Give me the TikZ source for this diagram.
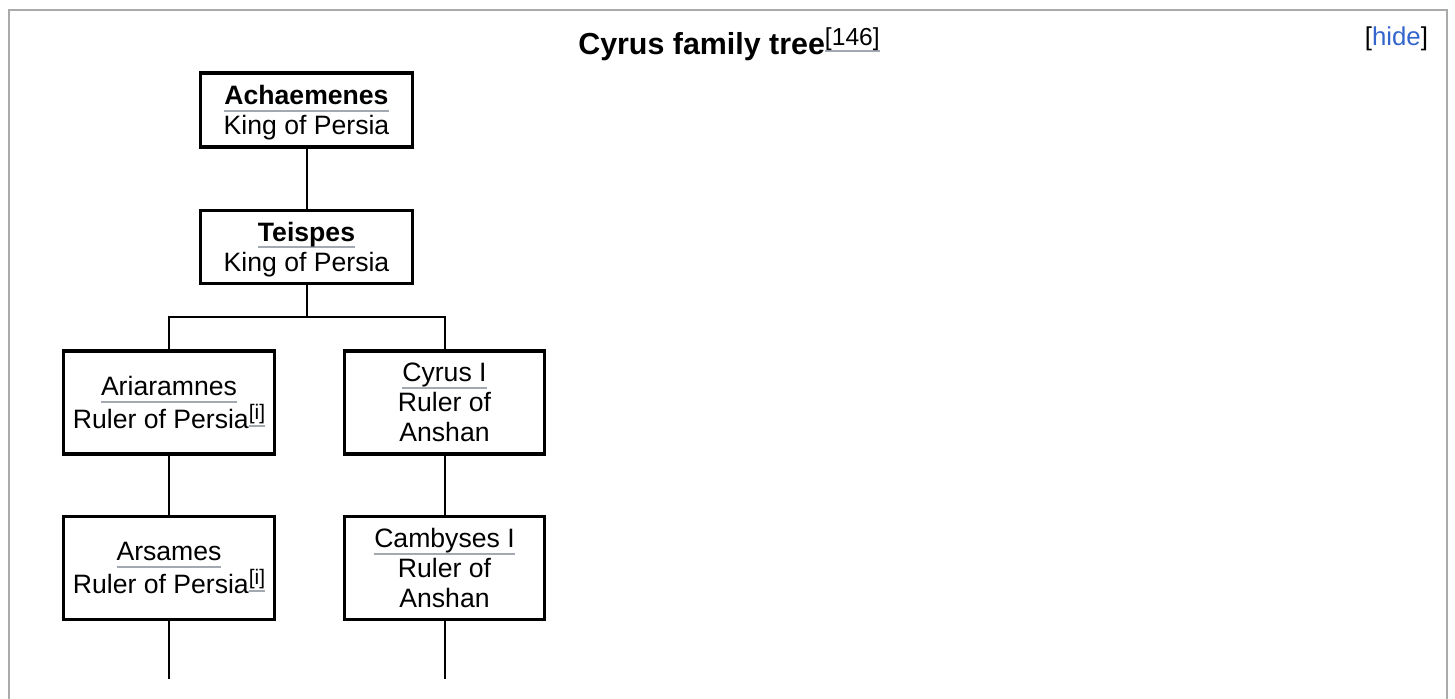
\documentclass[tikz,border=0pt]{standalone}
\usepackage{fontspec}
\setmainfont{Liberation Sans}
\usetikzlibrary{positioning}
\definecolor{framegrey}{RGB}{170,170,170}
\definecolor{linkgrey}{RGB}{162,169,177}
\definecolor{linkblue}{RGB}{51,102,204}

% underlined name, optional strut height
\newcommand{\namelink}[2][0pt]{\rule{0pt}{#1}\setbox0=\hbox{#2}\rlap{\color{linkgrey}\rule[-3.5pt]{\wd0}{1pt}}\box0}
\newcommand{\citeref}[2][10.5]{\raisebox{4.5pt}{\normalfont\fontsize{#1}{#1}\selectfont\namelink{[#2]}}}

\begin{document}
\begin{tikzpicture}[
    person/.style={rectangle, draw, line width=1.75pt, minimum width=106pt, minimum height=36.5pt, align=center, font=\fontsize{13.3}{15}\selectfont},
    king/.style={person},
    ruler/.style={person, minimum width=105.5pt, minimum height=51.5pt},
    anshan/.style={person, minimum width=100pt, minimum height=51.5pt},
    link/.style={line width=1pt}
]
    \useasboundingbox (0,0) rectangle (727.5pt,-349pt);
    \draw[framegrey, line width=1pt] (4.5pt,-360pt) |- (723.5pt,-5pt) -- (723.5pt,-360pt);

    % Heading
    \node[anchor=base, font=\fontsize{15.2}{18}\selectfont\bfseries] (title) at (364.5pt,-27pt) {Cyrus family tree\citeref[12.3]{146}};
    \node[anchor=base east, font=\fontsize{12.9}{15}\selectfont] (hide) at (717.5pt,-22.5pt) {[\textcolor{linkblue}{hide}]};

    % Kings
    \node[king] (achaemenes) at (153.25pt,-55pt) {\namelink[12.7pt]{\textbf{Achaemenes}}\\King of Persia};
    \node[king, below=30pt of achaemenes] (teispes) {\namelink[12pt]{\textbf{Teispes}}\\King of Persia};

    % Two lines
    \node[ruler, below=32pt of teispes, xshift=-68.75pt] (ariaramnes) {\namelink{Ariaramnes}\\Ruler of Persia\citeref{i}};
    \node[anshan, below=32pt of teispes, xshift=69pt] (cyrus) {\namelink{Cyrus I}\\Ruler of\\Anshan};
    \node[ruler, below=29.5pt of ariaramnes] (arsames) {\namelink{Arsames}\\Ruler of Persia\citeref{i}};
    \node[anshan, below=29.5pt of cyrus] (cambyses) {\namelink{Cambyses I}\\Ruler of\\Anshan};

    % Edges
    \coordinate[below=16pt of teispes] (fork);
    \coordinate[below=29pt of arsames] (arsames_end);
    \coordinate[below=29pt of cambyses] (cambyses_end);
    \draw[link] (achaemenes) -- (teispes);
    \draw[link] (teispes) -- (fork);
    \draw[link] (ariaramnes.north) |- (fork) -| (cyrus.north);
    \draw[link] (ariaramnes) -- (arsames);
    \draw[link] (cyrus) -- (cambyses);
    \draw[link] (arsames) -- (arsames_end);
    \draw[link] (cambyses) -- (cambyses_end);
\end{tikzpicture}
\end{document}
